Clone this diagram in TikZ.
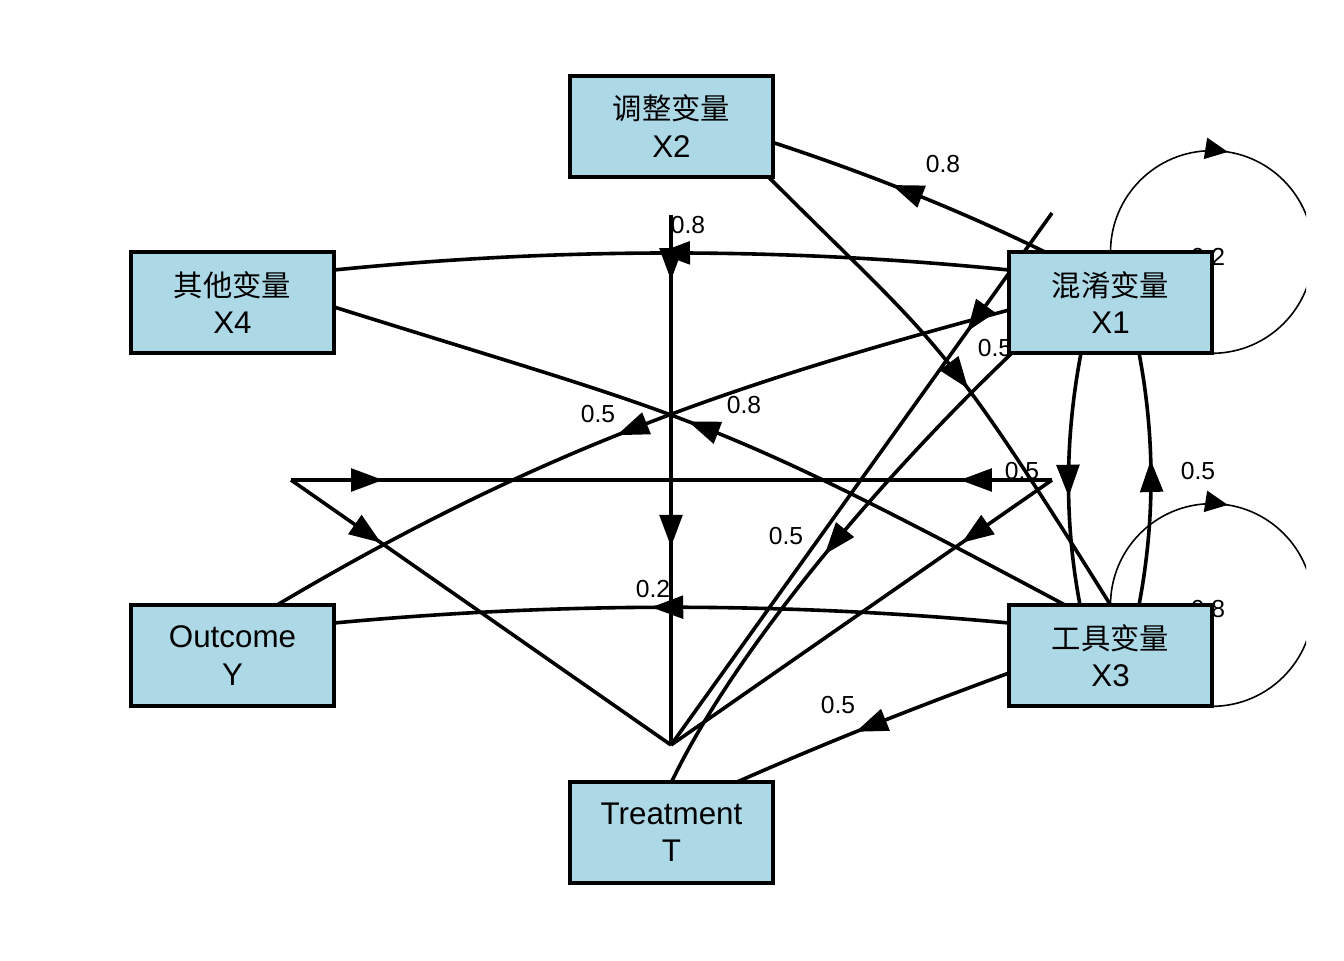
\documentclass[tikz,border=0pt]{standalone}
\usepackage{fontspec}
\setmainfont{Liberation Sans}
\newfontfamily\cjk{Noto Sans CJK SC}
\usetikzlibrary{arrows.meta,decorations.markings}
\definecolor{boxblue}{RGB}{173,216,230}

\tikzset{
  headtip/.tip={Triangle[length=24pt,width=17pt]},
  looptip/.tip={Triangle[length=17pt,width=16pt]},
  box/.style={draw=black, line width=3pt, fill=boxblue, minimum width=152.25pt,
    minimum height=75.75pt, inner sep=0pt, outer sep=0pt, align=center,
    font=\fontsize{23.5}{28}\selectfont},
  edge/.style={line width=2.7pt},
  loopedge/.style={line width=1.2pt},
  tipat/.style={postaction={decorate}, decoration={markings,
    mark=at position #1 with {\arrow{headtip}}}},
  tiptwo/.style 2 args={postaction={decorate}, decoration={markings,
    mark=at position #1 with {\arrow{headtip}},
    mark=at position #2 with {\arrow{headtip}}}},
  looptipat/.style={postaction={decorate}, decoration={markings,
    mark=at position #1 with {\arrow{looptip}}}},
  wlabel/.style={font=\fontsize{18.5}{18.5}\selectfont, inner sep=0pt},
}
\newcommand{\zh}[1]{{\cjk\fontsize{22}{28}\selectfont #1}}

\begin{document}
\begin{tikzpicture}[x=0.75pt, y=-0.75pt]
\useasboundingbox (0,0) rectangle (1344,960);
\fill[white] (0,0) rectangle (1344,960);

% variable boxes (placed first so edges can refer to them; redrawn on top later)
\path
  (671.5,126)   node[box] (x2) {\zh{调整变量}\\X2}
  (232.5,302.5) node[box] (x4) {\zh{其他变量}\\X4}
  (1110.5,302.5) node[box] (x1) {\zh{混淆变量}\\X1}
  (232.5,655.5) node[box] (y)  {Outcome\\Y}
  (1110.5,655.5) node[box] (x3) {\zh{工具变量}\\X3}
  (671.5,832.5) node[box] (t)  {Treatment\\T};

% free corner points of the collapsed paths
\coordinate (apex) at (671,745);
\coordinate (lft)  at (291,480);
\coordinate (rgt)  at (1052,480);
\coordinate (vtop) at (671,215);
\coordinate (dtop) at (1052,213);

% collapsed paths
\draw[edge, tipat=0.121] (lft) -- (rgt);
\draw[edge, tipat=0.121] (rgt) -- (lft);
\draw[edge, tipat=0.237] (lft) -- (apex);
\draw[edge, tipat=0.237] (rgt) -- (apex);
\draw[edge, tipat=0.223] (dtop) -- (apex);
\draw[edge, tiptwo={0.123}{0.626}] (vtop) -- (apex);

% regression paths
\draw[edge, tipat=0.57] ([shift={(36,0)}]x1.north west)
  .. controls +(-88,-43) and +(93,30.5) .. ([shift={(0,67)}]x2.north east);
\draw[edge, tipat=0.52] ([shift={(0,18)}]x1.north west)
  .. controls +(-225,-22.7) and +(225,-22.7) .. ([shift={(0,18)}]x4.north east);
\draw[edge, tipat=0.53] ([shift={(0,18)}]x3.north west)
  .. controls +(-225,-21) and +(225,-21) .. ([shift={(0,18)}]y.north east);
\draw[edge, tipat=0.57] ([shift={(72,0)}]x1.south west)
  .. controls +(-16,84) and +(-16,-84) .. ([shift={(71,0)}]x3.north west);
\draw[edge, tipat=0.575] ([shift={(130,0)}]x3.north west)
  .. controls +(16,-84) and +(16,84) .. ([shift={(130,0)}]x1.south west);
\draw[edge, tipat=0.50] ([shift={(3,0)}]x1.south west)
  .. controls +(-130,124) and +(65,-135) .. (t.north);
\draw[edge, tipat=0.53] ([shift={(56,0)}]x3.north west)
  .. controls +(-363,-194) and +(364,114) .. ([shift={(0,55)}]x4.north east);
\draw[edge, tipat=0.52] ([shift={(0,58)}]x1.north west)
  .. controls +(-268,72) and +(268,-159) .. ([shift={(146,0)}]y.north west);
\draw[edge, tipat=0.53] ([shift={(-5,0)}]x2.south east)
  .. controls +(172,172) and +(-172.5,-276) .. (x3.north);
\draw[edge, tipat=0.56] ([shift={(0,68)}]x3.north west)
  .. controls +(-90,33) and +(95,-42) .. ([shift={(167,0)}]t.north west);

% residual variances
\begin{scope}
  \clip (0,0) rectangle (1306,960);
  \draw[loopedge, looptipat=0.367] (x1.north) arc[start angle=180, end angle=-90, radius=76pt];
  \draw[loopedge, looptipat=0.367] (x3.north) arc[start angle=180, end angle=-90, radius=76pt];
\end{scope}

% path weights
\node[wlabel] (w1)  at (943,164) {0.8};
\node[wlabel] (w2)  at (688,225) {0.8};
\node[wlabel] (w3)  at (598,414) {0.5};
\node[wlabel] (w4)  at (744,405) {0.8};
\node[wlabel] (w5)  at (1022,471) {0.5};
\node[wlabel] (w6)  at (786,536) {0.5};
\node[wlabel] (w7)  at (653,589) {0.2};
\node[wlabel] (w8)  at (838,705) {0.5};
\node[wlabel] (w9)  at (1198,471) {0.5};
\node[wlabel] (w10) at (995,348) {0.5};
\node[wlabel] (w11) at (1208,257) {0.2};
\node[wlabel] (w12) at (1208,609) {0.8};

% boxes drawn over everything
\path
  (671.5,126)   node[box] {\zh{调整变量}\\X2}
  (232.5,302.5) node[box] {\zh{其他变量}\\X4}
  (1110.5,302.5) node[box] {\zh{混淆变量}\\X1}
  (232.5,655.5) node[box] {Outcome\\Y}
  (1110.5,655.5) node[box] {\zh{工具变量}\\X3}
  (671.5,832.5) node[box] {Treatment\\T};
\end{tikzpicture}
\end{document}
